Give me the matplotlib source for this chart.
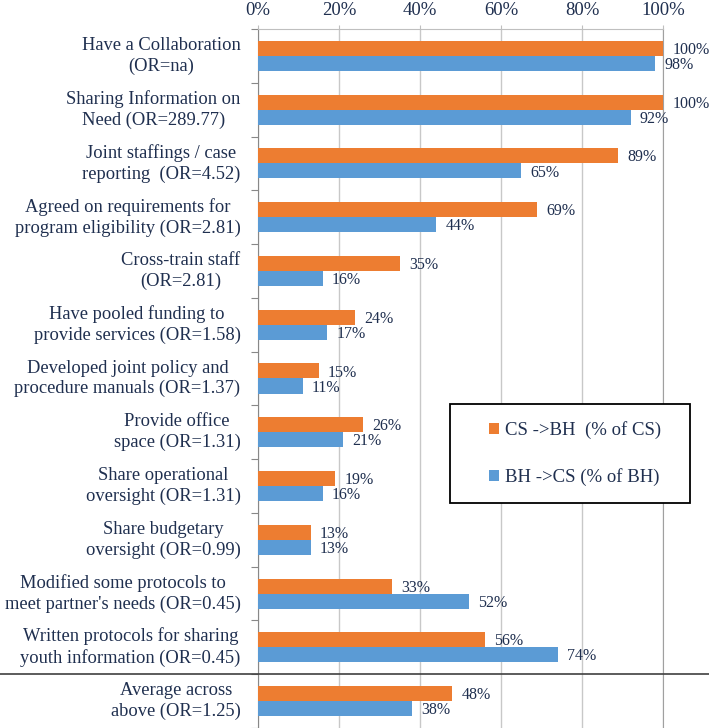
import numpy as np
import matplotlib
matplotlib.use("Agg")
from matplotlib import pyplot as plt
from matplotlib.lines import Line2D
from matplotlib.patches import Rectangle
import matplotlib.transforms as mtransforms

plt.rcParams['font.family'] = ['Liberation Serif', 'DejaVu Serif']

labels = [
    "Have a Collaboration\n(OR=na)",
    "Sharing Information on\nNeed (OR=289.77)",
    "Joint staffings / case\nreporting  (OR=4.52)",
    "Agreed on requirements for\nprogram eligibility (OR=2.81)",
    "Cross-train staff\n(OR=2.81)",
    "Have pooled funding to\nprovide services (OR=1.58)",
    "Developed joint policy and\nprocedure manuals (OR=1.37)",
    "Provide office\nspace (OR=1.31)",
    "Share operational\noversight (OR=1.31)",
    "Share budgetary\noversight (OR=0.99)",
    "Modified some protocols to\nmeet partner's needs (OR=0.45)",
    "Written protocols for sharing\nyouth information (OR=0.45)",
    "Average across\nabove (OR=1.25)",
]
cs_bh = [100, 100, 89, 69, 35, 24, 15, 26, 19, 13, 33, 56, 48]
bh_cs = [98, 92, 65, 44, 16, 17, 11, 21, 16, 13, 52, 74, 38]
xticks = [0, 20, 40, 60, 80, 100]

text_col = '#1f2f4f'
orange = '#ed7d31'
blue = '#5b9bd5'

fig = plt.figure(figsize=(7.09, 7.28), dpi=100)
ax = fig.add_axes([0.3639, 0.0, 0.5712, 0.9602])

y = np.arange(len(labels))
h = 0.28
ax.barh(y - h / 2, cs_bh, height=h, color=orange, label='CS ->BH  (% of CS)', zorder=3)
ax.barh(y + h / 2, bh_cs, height=h, color=blue, label='BH ->CS (% of BH)', zorder=3)

for i in range(len(labels)):
    ax.text(cs_bh[i] + 2.3, y[i] - h / 2 + 0.03, f"{cs_bh[i]}%", va='center', ha='left',
            fontsize=11.5, color=text_col, zorder=4)
    ax.text(bh_cs[i] + 2.3, y[i] + h / 2 + 0.03, f"{bh_cs[i]}%", va='center', ha='left',
            fontsize=11.5, color=text_col, zorder=4)

ax.set_xlim(0, 100)
ax.set_ylim(len(labels) - 0.5, -0.5)
ax.xaxis.tick_top()
ax.set_xticks(xticks)
ax.set_xticklabels([f"{v}%" for v in xticks], fontsize=13.5, color=text_col)
ax.tick_params(axis='x', length=3, color='#bfbfbf', pad=4)
ax.grid(axis='x', color='#c8c8c8', lw=1, zorder=0)

# category labels + separator ticks
ax.set_yticks(np.arange(len(labels) + 1) - 0.5)
ax.set_yticklabels([])
ax.tick_params(axis='y', length=5, color='#888888', direction='out')
for i, lab in enumerate(labels):
    ax.text(-4.3, y[i], lab, ha='right', va='center', multialignment='center',
            fontsize=13.3, color=text_col, linespacing=1.27)

ax.spines['bottom'].set_visible(False)
ax.spines['top'].set_color('#bfbfbf')
ax.spines['left'].set_color('#888888')
ax.spines['right'].set_color('#a0a0a0')

# separator line before the average row
trans = mtransforms.blended_transform_factory(fig.transFigure, ax.transData)
fig.add_artist(Line2D([0, 1], [11.5, 11.5], transform=trans, color='#404040', lw=1.2))

# legend box
W, H = 709.0, 728.0
ax.add_patch(Rectangle((450 / W, 1 - 503 / H), 240 / W, 99 / H, transform=fig.transFigure,
                       facecolor='white', edgecolor='black', lw=1.3, zorder=5, clip_on=False))
leg = ax.legend(loc='center', bbox_to_anchor=(575 / W, 1 - 454 / H), bbox_transform=fig.transFigure,
                frameon=False, fontsize=13.5, labelspacing=1.55, handlelength=0.55,
                handleheight=0.55, handletextpad=0.3, borderpad=0, borderaxespad=0)
leg.set_zorder(6)
for t in leg.get_texts():
    t.set_color(text_col)

fig.savefig("out.png", dpi=100)
